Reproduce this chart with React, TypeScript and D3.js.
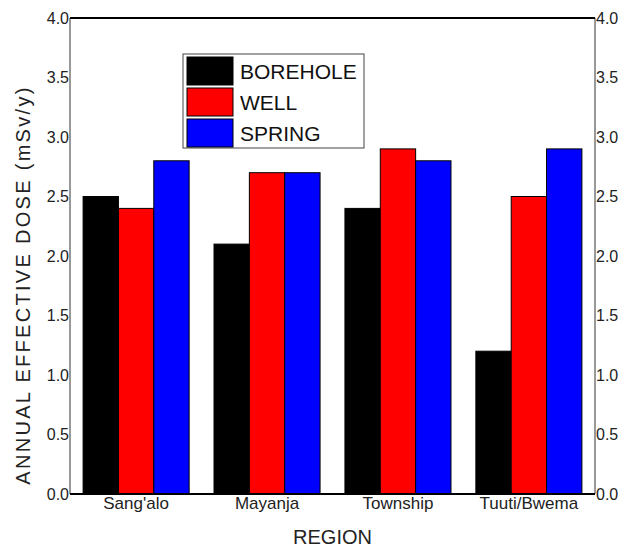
import React, { useRef, useEffect } from "react";
import * as d3 from "d3";

const regions = ["Sang'alo", "Mayanja", "Township", "Tuuti/Bwema"];
const sources = ["BOREHOLE", "WELL", "SPRING"];
const borehole = [2.5, 2.1, 2.4, 1.2];
const well = [2.4, 2.7, 2.9, 2.5];
const spring = [2.8, 2.7, 2.8, 2.9];
const yTicks = [0, 0.5, 1, 1.5, 2, 2.5, 3, 3.5, 4];
const colors = ["#000000", "#ff0000", "#0000ff"];

const App = () => {
  const svgRef = useRef<SVGSVGElement | null>(null);

  useEffect(() => {
    const width = 627;
    const height = 547;
    const margin = { top: 18, right: 32, bottom: 53, left: 70 };
    const font = "'Liberation Sans', Arial, sans-serif";

    const svg = d3.select(svgRef.current);
    svg.selectAll("*").remove();
    svg.attr("width", width).attr("height", height);

    const series = [borehole, well, spring];
    const data = regions.map((r, i) => ({
      region: r,
      values: sources.map((s, j) => ({ source: s, value: series[j][i] })),
    }));

    const x0 = d3
      .scaleBand()
      .domain(regions)
      .range([margin.left, width - margin.right])
      .paddingInner(0.19)
      .paddingOuter(0.1);
    const x1 = d3.scaleBand().domain(sources).range([0, x0.bandwidth()]);
    const y = d3
      .scaleLinear()
      .domain([0, 4])
      .range([height - margin.bottom, margin.top]);
    const color = d3.scaleOrdinal<string>().domain(sources).range(colors);

    // bars
    svg
      .append("g")
      .selectAll("g")
      .data(data)
      .enter()
      .append("g")
      .attr("transform", (d) => `translate(${x0(d.region)},0)`)
      .selectAll("rect")
      .data((d) => d.values)
      .enter()
      .append("rect")
      .attr("x", (d) => x1(d.source)!)
      .attr("width", x1.bandwidth())
      .attr("y", (d) => y(d.value))
      .attr("height", (d) => y(0) - y(d.value))
      .attr("fill", (d) => color(d.source))
      .attr("stroke", "#000")
      .attr("stroke-width", 1);

    // frame
    const left = margin.left;
    const right = width - margin.right;
    svg
      .append("line")
      .attr("x1", left).attr("x2", left)
      .attr("y1", y(4)).attr("y2", y(0))
      .attr("stroke", "#555").attr("stroke-width", 1.2);
    svg
      .append("line")
      .attr("x1", right).attr("x2", right)
      .attr("y1", y(4)).attr("y2", y(0))
      .attr("stroke", "#555").attr("stroke-width", 1.2);
    svg
      .append("line")
      .attr("x1", left).attr("x2", right)
      .attr("y1", y(4)).attr("y2", y(4))
      .attr("stroke", "#000").attr("stroke-width", 2);
    svg
      .append("line")
      .attr("x1", left).attr("x2", right)
      .attr("y1", y(0)).attr("y2", y(0))
      .attr("stroke", "#000").attr("stroke-width", 2);

    // tick labels
    const tickG = svg.append("g").style("font-family", font).style("font-size", "16px").attr("fill", "#222");
    tickG
      .selectAll("text.l")
      .data(yTicks)
      .enter()
      .append("text")
      .attr("x", left - 1)
      .attr("y", (d) => y(d))
      .attr("dy", "0.35em")
      .attr("text-anchor", "end")
      .text((d) => d3.format(".1f")(d));
    tickG
      .selectAll("text.r")
      .data(yTicks)
      .enter()
      .append("text")
      .attr("x", right + 1)
      .attr("y", (d) => y(d))
      .attr("dy", "0.35em")
      .attr("text-anchor", "start")
      .text((d) => d3.format(".1f")(d));

    // x labels
    svg
      .append("g")
      .style("font-family", font)
      .style("font-size", "17px")
      .attr("fill", "#222")
      .selectAll("text")
      .data(regions)
      .enter()
      .append("text")
      .attr("x", (d) => x0(d)! + x0.bandwidth() / 2)
      .attr("y", y(0) + 15)
      .attr("text-anchor", "middle")
      .text((d) => d);

    // axis titles
    svg
      .append("text")
      .attr("x", (left + right) / 2)
      .attr("y", 544)
      .attr("text-anchor", "middle")
      .style("font-family", font)
      .style("font-size", "20px")
      .attr("fill", "#222")
      .text("REGION");
    svg
      .append("text")
      .attr("transform", `translate(30,285) rotate(-90)`)
      .attr("text-anchor", "middle")
      .style("font-family", font)
      .style("font-size", "20px")
      .style("letter-spacing", "2.3px")
      .attr("fill", "#222")
      .text("ANNUAL EFFECTIVE DOSE (mSv/y)");

    // legend
    const lg = svg.append("g").attr("transform", "translate(183,54)");
    lg.append("rect")
      .attr("width", 181)
      .attr("height", 94)
      .attr("fill", "#fff")
      .attr("stroke", "#444")
      .attr("stroke-width", 1);
    const item = lg
      .selectAll("g")
      .data(sources)
      .enter()
      .append("g")
      .attr("transform", (d, i) => `translate(4,${3 + i * 31})`);
    item
      .append("rect")
      .attr("width", 46)
      .attr("height", 28)
      .attr("fill", (d) => color(d))
      .attr("stroke", "#000");
    item
      .append("text")
      .attr("x", 53)
      .attr("y", 14)
      .attr("dy", "0.36em")
      .style("font-family", font)
      .style("font-size", "21px")
      .attr("fill", "#111")
      .text((d) => d);
  }, []);

  return <svg ref={svgRef} style={{ display: "block", position: "absolute", left: 0, top: 0 }}></svg>;
};

export default App;
